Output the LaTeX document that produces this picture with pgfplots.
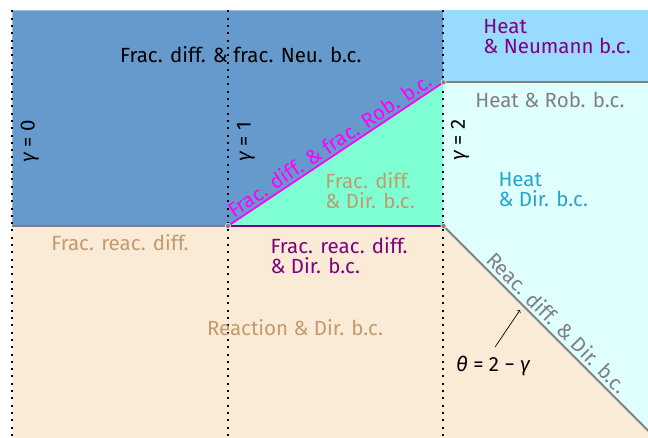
\documentclass[border=0pt]{standalone}
\usepackage{pgfplots}
\pgfplotsset{compat=1.18}
\usepackage{fontspec}
\setmainfont{Fira Sans}
\definecolor{cblue}{RGB}{102,153,204}
\definecolor{caqua}{RGB}{127,255,212}
\definecolor{clblue}{RGB}{153,218,255}
\definecolor{clcyan}{RGB}{224,255,255}
\definecolor{cbeige}{RGB}{250,235,215}
\definecolor{ctan}{RGB}{196,154,108}
\definecolor{cpurple}{RGB}{128,0,128}
\definecolor{cmag}{RGB}{255,0,255}
\definecolor{cgray}{RGB}{128,128,128}
\definecolor{cheat}{RGB}{33,166,204}
\tikzset{lbl/.style={font=\fontsize{20.5}{20}\selectfont}}
\begin{document}
\begin{tikzpicture}
\begin{axis}[
  scale only axis, width=648pt, height=438pt,
  xmin=-0.058, xmax=2.949, ymin=-0.9838, ymax=1.0487,
  hide axis, clip=true,
]
\path (rel axis cs:0,0) rectangle (rel axis cs:1,1);
% regions
\addplot[fill=cblue, draw=none] coordinates {(0,0) (0,1) (2,1) (2,0.6667) (1,0)} -- cycle;
\addplot[fill=caqua, draw=none] coordinates {(1,0) (2,0.6667) (2,0)} -- cycle;
\addplot[fill=clblue, draw=none] coordinates {(2,0.6667) (2,1) (3,1) (3,0.6667)} -- cycle;
\addplot[fill=clcyan, draw=none] coordinates {(2,0) (2,0.6667) (3,0.6667) (3,-1)} -- cycle;
\addplot[fill=cbeige, draw=none] coordinates {(0,0) (2,0) (3,-1) (3,-1.1) (0,-1.1)} -- cycle;
% boundaries
\addplot[cgray, line width=1.8pt] coordinates {(0,0) (1,0)};
\addplot[cpurple, line width=1.8pt] coordinates {(1,0) (2,0)};
\addplot[cmag, line width=1.8pt] coordinates {(1,0) (2,0.6667)};
\addplot[cgray, line width=1.8pt] coordinates {(2,0.6667) (3,0.6667)};
\addplot[cgray, line width=1.8pt] coordinates {(2,0) (3.1,-1.1)};
% dotted gamma lines
\addplot[black, line width=2pt, dash pattern=on 2pt off 5.3pt] coordinates {(0,1) (0,-1.1)};
\addplot[black, line width=2pt, dash pattern=on 2pt off 5.3pt] coordinates {(1,1) (1,-1.1)};
\addplot[black, line width=2pt, dash pattern=on 2pt off 5.3pt] coordinates {(2,1) (2,-1.1)};
% corner points
\addplot[only marks, mark=*, mark size=2.6pt, mark options={fill=cgray, draw=white!85!gray, line width=0.6pt}] coordinates {(1,0) (2,0) (2,0.6667)};
% labels
\node[lbl, rotate=90] at (axis cs:0.081,0.394) {\itshape γ\upshape\ = 0};
\node[lbl, rotate=90] at (axis cs:1.084,0.390) {\itshape γ\upshape\ = 1};
\node[lbl, rotate=90] at (axis cs:2.077,0.399) {\itshape γ\upshape\ = 2};
\node[lbl, black] at (axis cs:1.060,0.793) {Frac. diff. \& frac. Neu. b.c.};
\node[lbl, cpurple, anchor=west, align=left] at (axis cs:2.169,0.877) {Heat\\\& Neumann b.c.};
\node[lbl, cgray] at (axis cs:2.494,0.585) {Heat \& Rob. b.c.};
\node[lbl, cheat, anchor=west, align=left] at (axis cs:2.239,0.167) {Heat\\\& Dir. b.c.};
\node[lbl, ctan, anchor=west, align=left] at (axis cs:1.436,0.162) {Frac. diff.\\\& Dir. b.c.};
\node[lbl, ctan] at (axis cs:0.499,-0.079) {Frac. reac. diff.};
\node[lbl, cpurple, anchor=west, align=left] at (axis cs:1.181,-0.139) {Frac. reac. diff.\\\& Dir. b.c.};
\node[lbl, ctan] at (axis cs:1.311,-0.473) {Reaction \& Dir. b.c.};
\node[lbl, cmag, rotate=33.75, anchor=south, inner sep=2.5pt] at (axis cs:1.5,0.3333) {Frac. diff. \& frac. Rob. b.c.};
\node[lbl, cgray, rotate=-45, anchor=south, inner sep=4pt] at (axis cs:2.488,-0.488) {Reac. diff. \& Dir. b.c.};
\node[lbl, black] at (axis cs:2.230,-0.650) {\itshape θ\upshape\ = 2 − \itshape γ};
\draw[->, black, line width=0.7pt] (axis cs:2.240,-0.561) -- (axis cs:2.355,-0.390);
\end{axis}
\end{tikzpicture}
\end{document}
